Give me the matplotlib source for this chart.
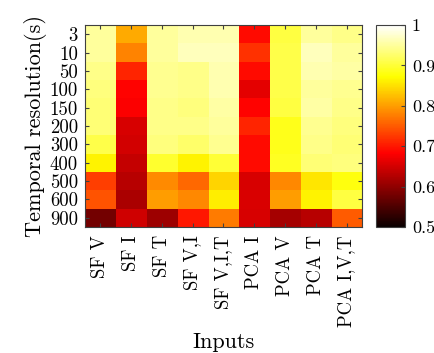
import numpy as np
import matplotlib
matplotlib.use("Agg")
import matplotlib.pyplot as plt

plt.rcParams['font.family'] = ['cmr10', 'DejaVu Serif']
plt.rcParams['axes.formatter.use_mathtext'] = True

resolutions = ["3", "10", "50", "100", "150", "200", "300", "400", "500", "600", "900"]
inputs = ["SF V", "SF I", "SF T", "SF V,I", "SF V,I,T", "PCA I", "PCA V", "PCA T", "PCA I,V,T"]

# accuracy per input set, one list per temporal resolution
acc_3   = [0.950, 0.810, 0.950, 0.960, 0.960, 0.690, 0.905, 0.950, 0.940]
acc_10  = [0.950, 0.780, 0.950, 0.965, 0.965, 0.720, 0.910, 0.965, 0.950]
acc_50  = [0.940, 0.710, 0.945, 0.940, 0.960, 0.690, 0.910, 0.960, 0.955]
acc_100 = [0.935, 0.685, 0.945, 0.940, 0.960, 0.664, 0.910, 0.950, 0.945]
acc_150 = [0.930, 0.680, 0.940, 0.935, 0.955, 0.685, 0.905, 0.955, 0.940]
acc_200 = [0.930, 0.653, 0.940, 0.940, 0.950, 0.710, 0.885, 0.945, 0.935]
acc_300 = [0.910, 0.650, 0.935, 0.925, 0.945, 0.690, 0.885, 0.940, 0.930]
acc_400 = [0.864, 0.640, 0.895, 0.865, 0.900, 0.690, 0.890, 0.930, 0.935]
acc_500 = [0.730, 0.630, 0.787, 0.760, 0.840, 0.653, 0.785, 0.855, 0.880]
acc_600 = [0.745, 0.620, 0.800, 0.785, 0.860, 0.655, 0.800, 0.865, 0.905]
acc_900 = [0.580, 0.647, 0.610, 0.700, 0.775, 0.653, 0.617, 0.630, 0.750]

data = np.array([acc_3, acc_10, acc_50, acc_100, acc_150, acc_200,
                 acc_300, acc_400, acc_500, acc_600, acc_900])

fig = plt.figure(figsize=(4.35, 3.53), dpi=100)
ax = fig.add_axes([0.195, 0.357, 0.637, 0.572])
cax = fig.add_axes([0.864, 0.357, 0.067, 0.572])

im = ax.imshow(data, cmap='hot', vmin=0.5, vmax=1, aspect='auto', interpolation='nearest')

ax.set_xticks(np.arange(len(inputs)))
ax.set_xticklabels(inputs, rotation=90, fontsize=13.5)
ax.set_yticks(np.arange(len(resolutions)))
ax.set_yticklabels(resolutions, fontsize=13.5)
ax.tick_params(direction='in', length=3, top=True, right=True, color='#404040')
ax.tick_params(axis='x', pad=6)
ax.tick_params(axis='y', pad=5)
for s in ax.spines.values():
    s.set_color('#404040')
    s.set_linewidth(0.8)

ax.set_xlabel("Inputs", fontsize=16, labelpad=4)
ax.set_ylabel("Temporal resolution(s)", fontsize=16, labelpad=2)

cb = fig.colorbar(im, cax=cax)
cb.set_ticks([0.5, 0.6, 0.7, 0.8, 0.9, 1])
cb.set_ticklabels(["0.5", "0.6", "0.7", "0.8", "0.9", "1"])
cb.ax.tick_params(direction='in', length=3, labelsize=13, color='#404040', pad=5)
cb.outline.set_edgecolor('#404040')
cb.outline.set_linewidth(0.8)

fig.savefig("out.png", dpi=100)
